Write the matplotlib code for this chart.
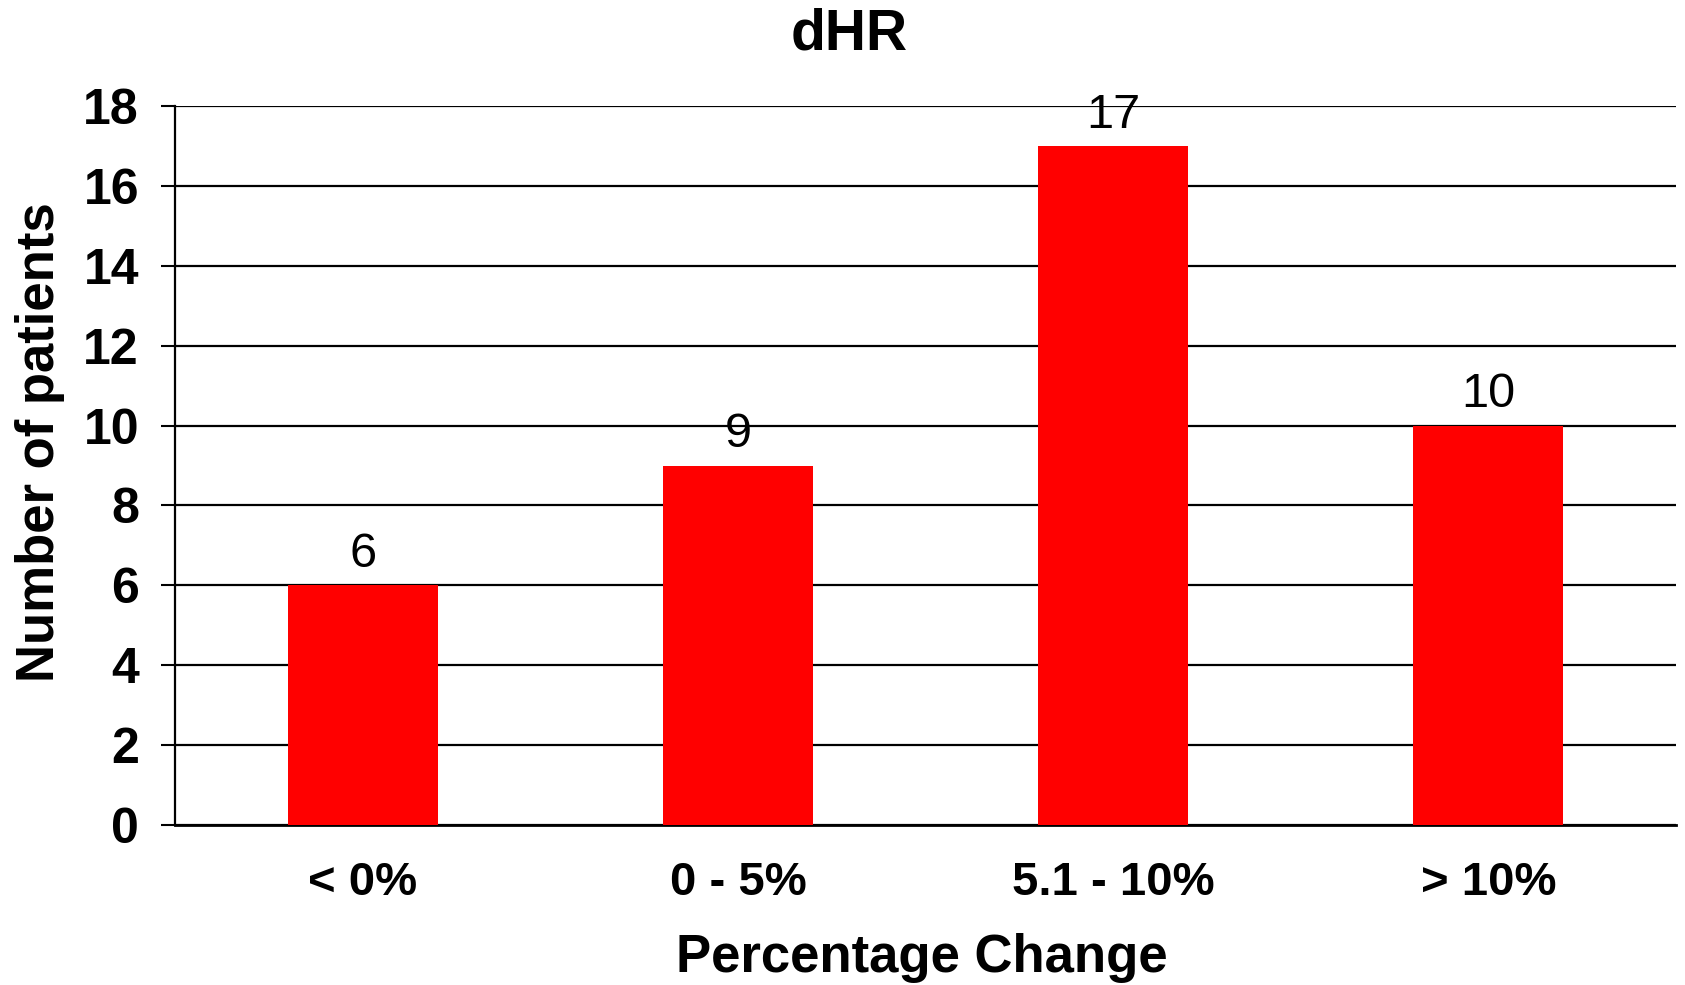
import matplotlib
matplotlib.use("Agg")
import matplotlib.pyplot as plt

categories = ["< 0%", "0 - 5%", "5.1 - 10%", "> 10%"]
patients = [6, 9, 17, 10]
y_ticks = [0, 2, 4, 6, 8, 10, 12, 14, 16, 18]

plt.rcParams["font.family"] = ["Liberation Sans", "DejaVu Sans"]

fig = plt.figure(figsize=(16.85, 9.85), dpi=100)
ax = fig.add_axes([0.1039, 0.1624, 0.8908, 0.7300])

x = range(len(categories))
ax.bar(x, patients, width=0.4, color="#ff0000", zorder=3)

for xi, v in zip(x, patients):
    ax.annotate(str(v), (xi, v), xytext=(0, 6), textcoords="offset points",
                ha="center", va="bottom", fontsize=35)

ax.set_xlim(-0.5, 3.5)
ax.set_ylim(0, 18)
ax.set_yticks(y_ticks)
ax.set_xticks(list(x))
ax.set_xticklabels(categories, fontsize=34, fontweight="bold")
ax.tick_params(axis="x", length=0, pad=26)
ax.tick_params(axis="y", length=10, width=1.5, labelsize=36, pad=16)
for lbl in ax.get_yticklabels():
    lbl.set_fontweight("bold")

ax.grid(axis="y", color="black", linewidth=1.6, zorder=0)
ax.set_axisbelow(True)
for side in ["top", "right"]:
    ax.spines[side].set_visible(False)
ax.spines["left"].set_linewidth(1.6)
ax.spines["bottom"].set_linewidth(2)

fig.text(0.504, 0.965, "dHR", ha="center", va="center",
         fontsize=41, fontweight="bold")
fig.text(0.547, 0.027, "Percentage Change", ha="center", va="center",
         fontsize=38, fontweight="bold")
fig.text(0.024, 0.551, "Number of patients", ha="center", va="center",
         rotation=90, fontsize=38, fontweight="bold")

fig.savefig("out.png", dpi=100)
